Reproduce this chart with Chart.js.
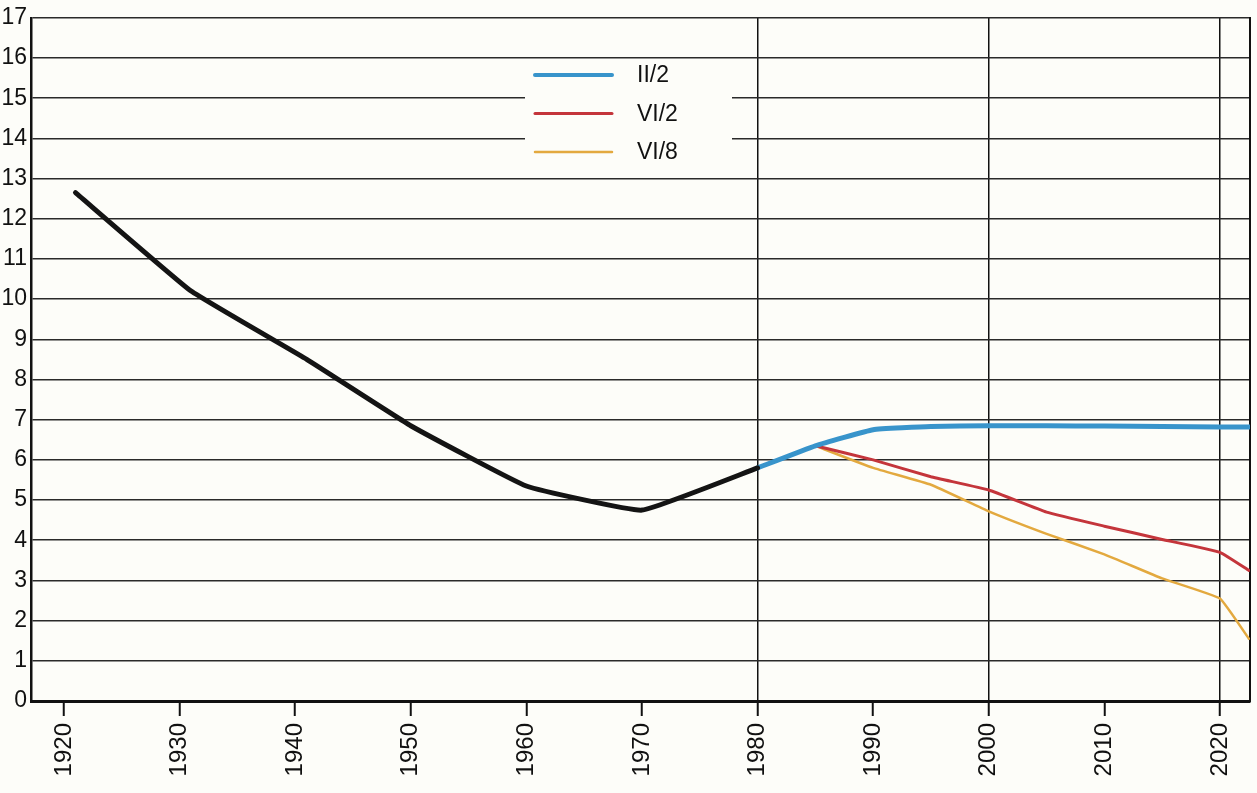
<!DOCTYPE html>
<html>
<head>
<meta charset="utf-8">
<script src="https://cdn.jsdelivr.net/npm/chart.js@4"></script>
<style>
  html, body { margin: 0; padding: 0; background: #fdfdf9; }
  canvas { display: block; }
</style>
</head>
<body>
<canvas id="chart" width="1257" height="793"></canvas>
<script>
'use strict';
const paper = '#fdfdf9';
const fontFamily = '"Liberation Sans", Arial, Helvetica, sans-serif';

// observed values
const histYears = [1921, 1931, 1941, 1950, 1960, 1970, 1980];
const histValues = [12.65, 10.2, 8.5, 6.85, 5.35, 4.75, 5.8];

// projections
const projYears = [1980, 1985, 1990, 1995, 2000, 2005, 2010, 2015, 2020, 2022.5];
const seriesII2 = [5.8, 6.35, 6.75, 6.83, 6.85, 6.85, 6.84, 6.83, 6.82, 6.82];
const seriesVI2 = [null, 6.35, 6.0, 5.58, 5.25, 4.7, 4.35, 4.02, 3.7, 3.25];
const seriesVI8 = [null, 6.35, 5.8, 5.38, 4.72, 4.16, 3.65, 3.05, 2.55, 1.55];

const tickYears = [1920, 1930, 1940, 1950, 1960, 1970, 1980, 1990, 2000, 2010, 2020];
const markedYears = [1980, 2000, 2020];

function points(xs, ys) {
    return xs.map((x, i) => ({ x: x, y: ys[i] })).filter(p => p.y !== null);
}

const insetLegend = {
    id: 'insetLegend',
    beforeDatasetsDraw(chart) {
        const ctx = chart.ctx;
        ctx.save();
        ctx.fillStyle = paper;
        ctx.fillRect(525, 66, 207, 102);
        let row = 0;
        chart.data.datasets.forEach(ds => {
            if (!ds.label) return;
            const y = 75 + row * 38.5;
            ctx.strokeStyle = ds.borderColor;
            ctx.lineWidth = ds.legendWidth;
            ctx.lineCap = 'round';
            ctx.beginPath();
            ctx.moveTo(535, y);
            ctx.lineTo(612, y);
            ctx.stroke();
            ctx.fillStyle = '#111';
            ctx.font = '23px ' + fontFamily;
            ctx.textBaseline = 'middle';
            ctx.fillText(ds.label, 637, y + 1);
            row++;
        });
        ctx.restore();
    }
};

const ctx2d = document.getElementById('chart').getContext('2d');
const chart = new Chart(ctx2d, {
    type: 'line',
    data: {
        datasets: [
            {
                label: '',
                data: points(histYears, histValues),
                borderColor: '#141414',
                borderWidth: 5,
            },
            {
                label: 'II/2',
                data: points(projYears, seriesII2),
                borderColor: '#3894cb',
                borderWidth: 5,
                legendWidth: 4,
            },
            {
                label: 'VI/2',
                data: points(projYears, seriesVI2),
                borderColor: '#c4353b',
                borderWidth: 3,
                legendWidth: 3,
            },
            {
                label: 'VI/8',
                data: points(projYears, seriesVI8),
                borderColor: '#e3a93f',
                borderWidth: 2.5,
                legendWidth: 2.5,
            },
        ],
    },
    options: {
        responsive: false,
        animation: false,
        devicePixelRatio: 1,
        layout: { padding: { top: 17, right: 7, left: 0, bottom: 0 } },
        elements: {
            point: { radius: 0 },
            line: { tension: 0.1, borderJoinStyle: 'round', borderCapStyle: 'round' },
        },
        scales: {
            x: {
                type: 'linear',
                min: 1917.15,
                max: 2022.6,
                afterBuildTicks: scale => { scale.ticks = tickYears.map(v => ({ value: v })); },
                afterFit: scale => { scale.height = 92; },
                grid: {
                    color: c => (c.tick && markedYears.includes(c.tick.value)) ? '#111' : 'rgba(0,0,0,0)',
                    lineWidth: 1.5,
                    tickColor: '#111',
                    tickWidth: 2,
                    tickLength: 15,
                },
                border: { color: '#111', width: 3 },
                ticks: {
                    autoSkip: false,
                    minRotation: 90,
                    maxRotation: 90,
                    padding: 7,
                    color: '#111',
                    font: { size: 24, family: fontFamily },
                    callback: v => String(v),
                },
            },
            y: {
                min: 0,
                max: 17,
                afterFit: scale => { scale.width = 31; },
                grid: { color: '#2a2a2a', lineWidth: 1.5, drawTicks: false },
                border: { color: '#111', width: 2.5 },
                ticks: {
                    stepSize: 1,
                    padding: 4,
                    color: '#111',
                    font: { size: 23, family: fontFamily },
                },
            },
            yRight: {
                position: 'right',
                min: 0,
                max: 17,
                afterFit: scale => { scale.width = 0; },
                grid: { display: false, drawTicks: false },
                border: { color: '#111', width: 2 },
                ticks: { display: false },
            },
        },
        plugins: {
            legend: { display: false },
            tooltip: { enabled: false },
        },
    },
    plugins: [insetLegend],
});
</script>
</body>
</html>
